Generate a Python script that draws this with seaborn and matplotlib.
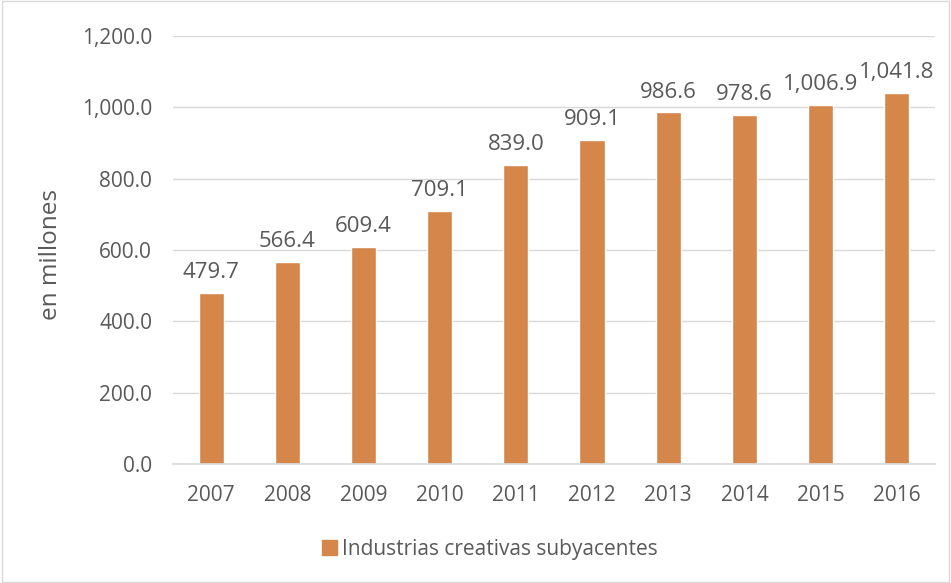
import matplotlib
matplotlib.use("Agg")
import matplotlib.pyplot as plt
import seaborn as sns
import pandas as pd
from matplotlib.patches import Rectangle

years = ["2007", "2008", "2009", "2010", "2011", "2012", "2013", "2014", "2015", "2016"]
values = [479.7, 566.4, 609.4, 709.1, 839.0, 909.1, 986.6, 978.6, 1006.9, 1041.8]
series_name = "Industrias creativas subyacentes"
y_ticks = [0, 200, 400, 600, 800, 1000, 1200]

sns.set_theme(style="white")
plt.rcParams['font.family'] = ['Open Sans', 'DejaVu Sans']

df = pd.DataFrame({"year": years, "value": values, "serie": series_name})

fig = plt.figure(figsize=(9.51, 5.83), dpi=100)
ax = fig.add_axes([0.182, 0.204, 0.801, 0.734])
color = "#D4864B"
text_color = "#595959"

sns.barplot(data=df, x="year", y="value", hue="serie", palette=[color],
            width=0.33, ax=ax, legend=False, saturation=1)

ax.set_ylim(0, 1200)
ax.set_yticks(y_ticks)
ax.set_yticklabels([f"{v:,.1f}" for v in y_ticks], fontsize=15, color=text_color)
ax.tick_params(axis='x', labelsize=15, colors=text_color, length=0, pad=15)
ax.tick_params(axis='y', length=0, pad=15)
ax.yaxis.grid(True, color="#D9D9D9", linewidth=1)
ax.set_axisbelow(True)
for s in ["top", "right", "left"]:
    ax.spines[s].set_visible(False)
ax.spines["bottom"].set_color("#D9D9D9")
ax.set_xlabel("")
ax.set_ylabel("en millones", fontsize=17.5, color=text_color)
ax.yaxis.set_label_coords(-0.145, 0.49)
ax.set_xlim(-0.5, len(years) - 0.5)

for i, v in enumerate(values):
    ax.annotate(f"{v:,.1f}", (i, v), xytext=(0, 7), textcoords="offset points",
                ha="center", va="bottom", fontsize=16, color=text_color)

# legend
handle = Rectangle((0, 0), 1, 1, color=color)
fig.legend([handle], [series_name], loc="center", bbox_to_anchor=(0.515, 0.058),
           frameon=False, fontsize=15, handlelength=0.7, handleheight=0.7,
           handletextpad=0.25, labelcolor=text_color)

# figure border
fig.patches.append(Rectangle((0.002, 0.002), 0.996, 0.996, transform=fig.transFigure,
                             fill=False, edgecolor="#D9D9D9", linewidth=1))

fig.savefig("out.png", dpi=100)
